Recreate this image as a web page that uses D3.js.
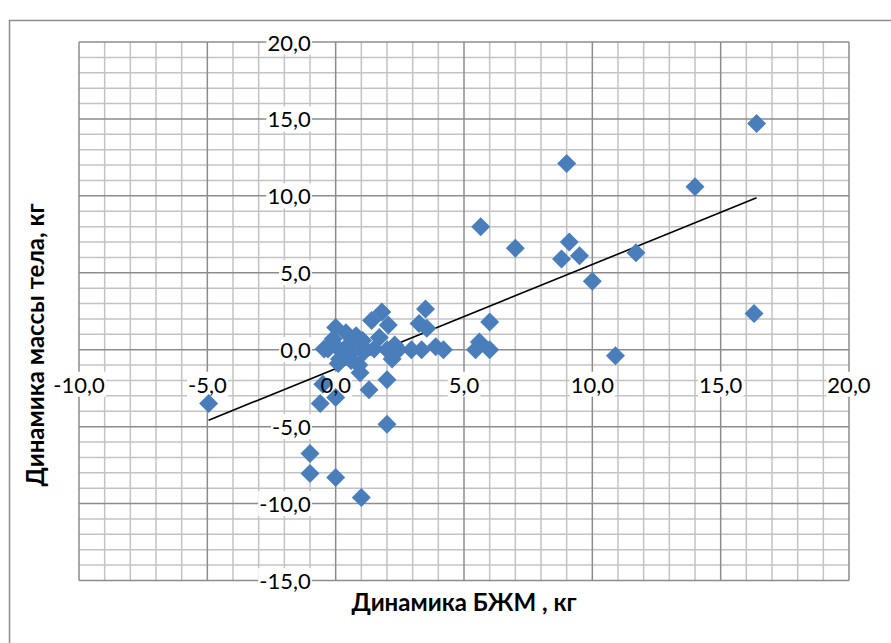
<!DOCTYPE html>
<html>
<head>
<meta charset="utf-8">
<script src="https://cdn.jsdelivr.net/npm/d3@7"></script>
<style>
  html, body { margin: 0; padding: 0; background: #fff; }
  svg { display: block; }
</style>
</head>
<body>
<svg id="chart" width="891" height="643"></svg>
<script>
// Динамика БЖМ (x) и динамика массы тела (y), кг
const bfmChange = [
  16.4, 9.0, 14.0, 5.65, 7.0, 9.1, 8.8, 9.5, 11.7, 10.0, 16.3, 10.9,
  6.0, 6.0, 5.45, 5.6, 4.2, 3.9, 3.35, 2.95, 2.45, 3.5, 3.25, 3.55,
  1.8, 1.4, 2.05, 0.0, 0.4, 0.8, 1.7, -0.1, 0.55, 1.0, -0.3, 0.15,
  0.6, 1.1, 1.5, 2.3, 2.0, 2.2, 0.9, 0.15, 0.1, 0.6, 0.95, 1.3,
  2.0, 2.0, -0.5, -0.6, 0.0, -4.95, -1.0, -1.0, 0.0, 1.0, -0.45, 1.05
];
const massChange = [
  14.7, 12.1, 10.6, 8.0, 6.6, 7.0, 5.9, 6.1, 6.3, 4.45, 2.35, -0.4,
  1.8, 0.0, 0.0, 0.5, 0.0, 0.2, 0.0, 0.0, 0.0, 2.65, 1.7, 1.4,
  2.45, 1.9, 1.6, 1.45, 1.1, 0.9, 0.8, 0.7, 0.4, 0.3, 0.05, 0.0,
  -0.25, -0.15, 0.05, 0.3, 0.0, -0.6, -1.0, -0.6, -0.9, -0.7, -1.5, -2.6,
  -1.95, -4.85, -2.25, -3.5, -3.1, -3.5, -6.75, -8.05, -8.3, -9.6, 0.05, 0.6
];

// Linear trend line coefficients (y = a·x + b)
const trendSlope = 0.677;
const trendIntercept = -1.23;

// Axis ticks
const xTicks = [-10, -5, 0, 5, 10, 15, 20];
const yTicks = [-15, -10, -5, 0, 5, 10, 15, 20];
const xTitle = "Динамика БЖМ , кг";
const yTitle = "Динамика массы тела, кг";

const svg = d3.select("#chart");
const fmt = v => d3.format(".1f")(v).replace(".", ",").replace("−", "-");

const x = d3.scaleLinear().domain([-10, 20]).range([79, 849]);
const y = d3.scaleLinear().domain([-15, 20]).range([580.5, 42]);

// Chart area frame
svg.append("rect")
  .attr("x", 9.5).attr("y", 20.5)
  .attr("width", 900).attr("height", 700)
  .attr("fill", "#fff")
  .attr("stroke", "#8c8c8c").attr("stroke-width", 1.5);

// Gridlines: minor every 1 kg, major every 5 kg
const grid = svg.append("g");
const xMinor = d3.range(-10, 20.01, 1).filter(v => v % 5 !== 0);
const yMinor = d3.range(-15, 20.01, 1).filter(v => v % 5 !== 0);

grid.selectAll("line.xmin").data(xMinor).join("line")
  .attr("x1", d => x(d)).attr("x2", d => x(d))
  .attr("y1", y(20)).attr("y2", y(-15))
  .attr("stroke", "#c3c3c3").attr("stroke-width", 1.5);
grid.selectAll("line.ymin").data(yMinor).join("line")
  .attr("x1", x(-10)).attr("x2", x(20))
  .attr("y1", d => y(d)).attr("y2", d => y(d))
  .attr("stroke", "#c3c3c3").attr("stroke-width", 1.5);
grid.selectAll("line.xmaj").data(xTicks).join("line")
  .attr("x1", d => x(d)).attr("x2", d => x(d))
  .attr("y1", y(20)).attr("y2", y(-15))
  .attr("stroke", "#8c8c8c").attr("stroke-width", 1.5);
grid.selectAll("line.ymaj").data(yTicks).join("line")
  .attr("x1", x(-10)).attr("x2", x(20))
  .attr("y1", d => y(d)).attr("y2", d => y(d))
  .attr("stroke", "#8c8c8c").attr("stroke-width", 1.5);

// Tick labels: y labels left of the vertical axis, x labels below the horizontal axis
const labelFont = "Lato, 'Noto Sans', sans-serif";
const labelSize = 22;
const bgLayer = svg.append("g");
const markLayer = svg.append("g");
const textLayer = svg.append("g");

const yLabels = textLayer.selectAll("text.yl").data(yTicks).join("text")
  .attr("x", x(0) - 25).attr("y", d => y(d))
  .attr("text-anchor", "end").attr("dominant-baseline", "central")
  .attr("font-family", labelFont).attr("font-size", labelSize)
  .attr("fill", "#000")
  .text(fmt);

const xLabels = textLayer.selectAll("text.xl").data(xTicks).join("text")
  .attr("x", d => x(d)).attr("y", y(0) + 43)
  .attr("text-anchor", "middle")
  .attr("font-family", labelFont).attr("font-size", labelSize)
  .attr("fill", "#000")
  .text(fmt);

// White boxes under the labels hide the gridlines behind them
[yLabels, xLabels].forEach(sel => sel.each(function () {
  const b = this.getBBox();
  bgLayer.append("rect")
    .attr("x", b.x - 1).attr("y", b.y + 1)
    .attr("width", b.width + 2).attr("height", b.height - 2)
    .attr("fill", "#fff");
}));

// Trend line across the data range
const xExt = d3.extent(bfmChange);
markLayer.append("line")
  .attr("x1", x(xExt[0])).attr("y1", y(trendSlope * xExt[0] + trendIntercept))
  .attr("x2", x(xExt[1])).attr("y2", y(trendSlope * xExt[1] + trendIntercept))
  .attr("stroke", "#000").attr("stroke-width", 1.6);

// Diamond markers
const r = 9.5;
const diamond = `M0,${-r}L${r},0L0,${r}L${-r},0Z`;
markLayer.selectAll("path.pt").data(d3.range(bfmChange.length)).join("path")
  .attr("d", diamond)
  .attr("transform", i => `translate(${x(bfmChange[i])},${y(massChange[i])})`)
  .attr("fill", "#4a7ebb");

// Axis titles
textLayer.append("text")
  .attr("x", 464).attr("y", 611)
  .attr("text-anchor", "middle")
  .attr("font-family", labelFont).attr("font-size", 24).attr("font-weight", "bold")
  .attr("fill", "#000")
  .text(xTitle);

textLayer.append("text")
  .attr("transform", `translate(44,345) rotate(-90)`)
  .attr("text-anchor", "middle")
  .attr("font-family", labelFont).attr("font-size", 24).attr("font-weight", "bold")
  .attr("fill", "#000")
  .text(yTitle);

// Markers above the label backgrounds but below the label text
markLayer.raise();
textLayer.raise();
</script>
</body>
</html>
